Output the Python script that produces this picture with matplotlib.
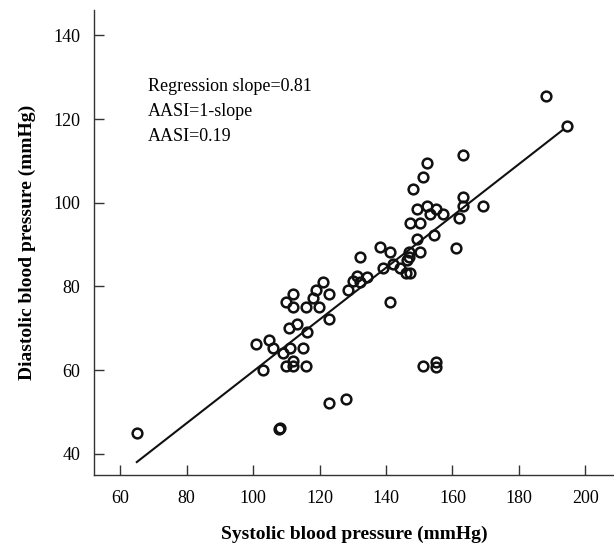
import numpy as np
import matplotlib
matplotlib.use('Agg')
import matplotlib.pyplot as plt

# systolic / diastolic pairs (mmHg)
sbp = [188.2, 194.4, 163.3, 152.3, 151.1, 148.0, 163.3, 163.3, 169.1, 149.3,
       152.3, 155.1, 153.3, 157.1, 162.1, 147.2, 150.2, 149.3, 154.3, 161.1,
       141.2, 147.0, 150.2, 138.2, 146.2, 142.2, 139.2, 144.2, 146.0, 147.2,
       141.2, 147.0, 131.2, 134.2, 132.2, 121.0, 112.1, 118.9, 122.9, 109.9,
       118.1, 128.5, 130.2, 132.2, 122.9, 113.1, 110.9, 116.1, 104.9, 100.9,
       105.9, 111.1, 114.9, 109.1, 112.1, 109.9, 112.1, 115.9, 102.9, 151.1,
       155.1, 155.1, 122.9, 128.0, 65.0, 107.9, 108.1, 112.1, 115.9, 119.9]
dbp = [125.5, 118.4, 111.4, 109.4, 106.2, 103.3, 101.3, 99.3, 99.3, 98.4,
       99.3, 98.4, 97.3, 97.3, 96.4, 95.2, 95.2, 91.3, 92.3, 89.2,
       88.3, 88.3, 88.3, 89.3, 86.2, 85.3, 84.3, 84.3, 83.3, 83.3,
       76.3, 86.9, 82.5, 82.3, 87.1, 81.1, 78.2, 79.1, 78.2, 76.2,
       77.1, 79.2, 81.2, 81.1, 72.2, 71.1, 70.1, 69.1, 67.2, 66.1,
       65.2, 65.2, 65.2, 64.1, 62.2, 61.0, 61.0, 61.0, 60.1, 61.0,
       61.8, 60.8, 52.0, 53.0, 45.0, 46.0, 46.2, 75.1, 75.1, 75.1]

# fitted line end points as drawn
line_x = [65.0, 193.2]
line_y = [38.0, 117.4]

xticks = [60, 80, 100, 120, 140, 160, 180, 200]
yticks = [40, 60, 80, 100, 120, 140]

plt.rcParams['font.family'] = ['Liberation Serif', 'DejaVu Serif']

fig = plt.figure(figsize=(6.14, 5.46), dpi=100)
ax = fig.add_axes([0.153, 0.130, 0.847, 0.852])

ax.plot(sbp, dbp, 'o', markerfacecolor='none', markeredgecolor='#111111',
        markersize=7, markeredgewidth=1.8, linestyle='none')
ax.plot(line_x, line_y, color='#111111', lw=1.5)

ax.set_xlim(52.1, 208.6)
ax.set_ylim(34.9, 146.1)
ax.set_xticks(xticks)
ax.set_yticks(yticks)
ax.tick_params(direction='in', length=7, width=1, labelsize=13, color='#333333')
ax.tick_params(axis='x', pad=11)
ax.tick_params(axis='y', pad=10)

for s in ['top', 'right']:
    ax.spines[s].set_visible(False)
for s in ['left', 'bottom']:
    ax.spines[s].set_color('#333333')
    ax.spines[s].set_linewidth(1)

ax.set_xlabel('Systolic blood pressure (mmHg)', fontsize=14, fontweight='bold', labelpad=13)
ax.set_ylabel('Diastolic blood pressure (mmHg)', fontsize=14, fontweight='bold', labelpad=12)

ax.text(0.241, 0.858, 'Regression slope=0.81\nAASI=1-slope\nAASI=0.19',
        transform=fig.transFigure, fontsize=13, va='top', ha='left', linespacing=1.62)

fig.savefig('out.png', dpi=100)
